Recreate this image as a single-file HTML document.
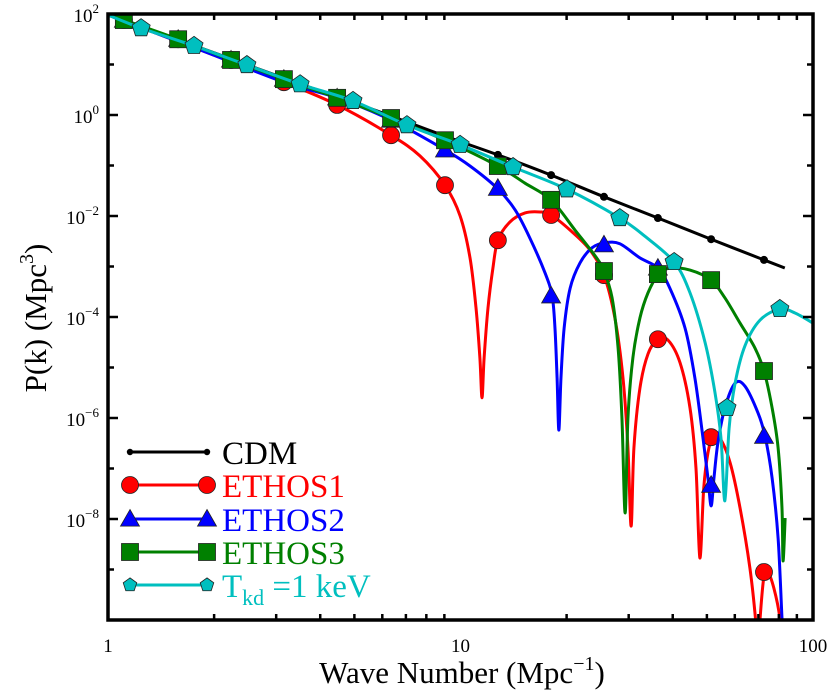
<!DOCTYPE html>
<html><head><meta charset="utf-8"><style>
html,body{margin:0;padding:0;background:#fff;}
svg{display:block;font-family:"Liberation Serif",serif;}
</style></head><body>
<svg id="chart" width="831" height="695" viewBox="0 0 831 695" xmlns="http://www.w3.org/2000/svg">
<defs><clipPath id="plotclip"><rect x="108" y="14" width="705" height="606"/></clipPath></defs>
<g id="curves" clip-path="url(#plotclip)"></g>
<g id="axes"></g>
<g id="legend"></g>
<text x="462" y="683" font-size="31" text-anchor="middle">Wave Number (Mpc<tspan font-size="20" dy="-13">−1</tspan><tspan dy="13">)</tspan></text>
<text transform="translate(46,318) rotate(-90)" font-size="31" text-anchor="middle">P(k) (Mpc<tspan font-size="20" dy="-13">3</tspan><tspan dy="13">)</tspan></text>
</svg>
<script>
// ---- data (log10 k in Mpc^-1, log10 P in Mpc^3) ----
const gridLogK = [0.045,0.199,0.349,0.499,0.650,0.803,0.956,1.106,1.257,1.407,1.560,1.711,1.861];
const halfLogK = [0.094,0.244,0.394,0.545,0.695,0.848,0.999,1.149,1.302,1.452,1.606,1.756,1.906];

const cdmLineK = [0.0,0.045,0.199,0.349,0.499,0.650,0.803,0.956,1.106,1.257,1.407,1.560,1.711,1.861,1.920];
const cdmLineP = [1.98,1.88,1.49,1.11,0.73,0.36,-0.02,-0.42,-0.79,-1.19,-1.62,-2.04,-2.46,-2.87,-3.03];
const cdmMarkP = [1.88,1.49,1.11,0.73,0.36,-0.02,-0.42,-0.79,-1.19,-1.62,-2.04,-2.46,-2.87];

const e1LineK = [0,0.261,0.499,0.650,0.803,0.885,0.956,0.999,1.027,1.044,1.055,1.061,1.067,1.078,1.092,1.106,1.140,1.183,1.226,1.257,1.311,1.367,1.407,1.438,1.461,1.475,1.484,1.492,1.509,1.532,1.560,1.589,1.623,1.651,1.668,1.679,1.690,1.702,1.716,1.736,1.765,1.793,1.821,1.838,1.844,1.850,1.861,1.872,1.889,1.906,1.915];
const e1LineP = [1.98,1.29,0.65,0.20,-0.40,-0.81,-1.39,-2.00,-2.83,-3.82,-4.81,-5.60,-4.81,-3.82,-3.03,-2.48,-2.12,-1.94,-1.92,-1.98,-2.28,-2.67,-3.17,-4.02,-5.21,-6.59,-8.14,-6.59,-5.41,-4.73,-4.44,-4.46,-4.91,-5.80,-6.99,-8.77,-7.39,-6.69,-6.38,-6.40,-6.89,-7.78,-8.97,-10.06,-10.75,-9.96,-9.13,-9.05,-9.37,-9.96,-10.75];
const e1MarkP = [1.88,1.50,1.09,0.65,0.20,-0.40,-1.39,-2.48,-1.98,-3.17,-4.44,-6.38,-9.05];

const e2LineK = [0,0.261,0.499,0.650,0.803,0.956,1.027,1.104,1.155,1.197,1.240,1.260,1.268,1.274,1.279,1.285,1.294,1.311,1.339,1.373,1.410,1.452,1.509,1.560,1.594,1.637,1.665,1.688,1.702,1.711,1.719,1.730,1.750,1.779,1.807,1.844,1.864,1.884,1.901,1.912,1.918];
const e2LineP = [1.98,1.29,0.65,0.34,-0.10,-0.69,-1.01,-1.45,-1.88,-2.44,-3.13,-3.58,-4.22,-5.21,-6.24,-5.21,-4.22,-3.43,-2.93,-2.63,-2.53,-2.55,-2.83,-3.03,-3.43,-4.22,-5.21,-6.40,-7.19,-7.74,-7.19,-6.50,-5.80,-5.31,-5.37,-5.90,-6.36,-7.19,-8.38,-9.96,-10.75];
const e2MarkP = [1.88,1.50,1.09,0.71,0.34,-0.10,-0.69,-1.45,-3.58,-2.57,-3.03,-7.33,-6.36];

const e3LineK = [0,0.045,0.199,0.349,0.499,0.650,0.803,0.956,1.106,1.183,1.257,1.325,1.382,1.407,1.430,1.447,1.458,1.467,1.475,1.489,1.509,1.532,1.560,1.594,1.651,1.711,1.750,1.793,1.835,1.861,1.884,1.901,1.912,1.915,1.921];
const e3LineP = [1.98,1.88,1.50,1.09,0.71,0.34,-0.06,-0.50,-1.01,-1.35,-1.68,-2.28,-2.79,-3.09,-3.62,-4.61,-6.00,-7.88,-6.00,-4.81,-4.02,-3.52,-3.17,-3.03,-3.07,-3.27,-3.62,-4.12,-4.61,-5.07,-5.80,-6.59,-7.78,-8.83,-7.98];
const e3MarkP = [1.88,1.50,1.09,0.71,0.34,-0.06,-0.50,-1.01,-1.68,-3.09,-3.15,-3.27,-5.07];

const tkLineK = [0,0.094,0.244,0.394,0.545,0.695,0.848,0.999,1.149,1.302,1.452,1.523,1.606,1.651,1.694,1.722,1.739,1.750,1.762,1.779,1.807,1.850,1.906,1.949,2.0];
const tkLineP = [1.98,1.72,1.37,0.99,0.61,0.28,-0.20,-0.59,-1.03,-1.47,-2.04,-2.40,-2.91,-3.52,-4.51,-5.50,-6.40,-7.64,-6.20,-5.31,-4.57,-4.06,-3.84,-3.92,-4.12];
const tkMarkP = [1.72,1.37,0.99,0.61,0.28,-0.20,-0.59,-1.03,-1.47,-2.04,-2.91,-5.80,-3.84];

const xTickLabels = ["1","10","100"];
const yTickExps = ["2","0","−2","−4","−6","−8"];
const yTickVals = [2,0,-2,-4,-6,-8];
const legendLabels = ["CDM","ETHOS1","ETHOS2","ETHOS3","T"];

// ---- axes ----
const X0=108,X1=813,Y0=14,Y1=620, LKMIN=0, LKMAX=2, LPMIN=-10, LPMAX=2;
const sx = lk => X0 + (lk-LKMIN)/(LKMAX-LKMIN)*(X1-X0);
const sy = lp => Y1 - (lp-LPMIN)/(LPMAX-LPMIN)*(Y1-Y0);
const NS="http://www.w3.org/2000/svg";
function mk(tag, attrs, parent){const e=document.createElementNS(NS,tag);for(const k in attrs)e.setAttribute(k,attrs[k]);parent.appendChild(e);return e;}

function smoothPath(K,P){
  const pts=K.map((k,i)=>[sx(k),sy(P[i])]);
  let d="M"+pts[0][0].toFixed(2)+","+pts[0][1].toFixed(2);
  for(let i=0;i<pts.length-1;i++){
    const p0=pts[Math.max(0,i-1)],p1=pts[i],p2=pts[i+1],p3=pts[Math.min(pts.length-1,i+2)];
    const t=0.16;
    const c1=[p1[0]+(p2[0]-p0[0])*t,p1[1]+(p2[1]-p0[1])*t];
    const c2=[p2[0]-(p3[0]-p1[0])*t,p2[1]-(p3[1]-p1[1])*t];
    d+=" C"+c1.map(v=>v.toFixed(2)).join(",")+" "+c2.map(v=>v.toFixed(2)).join(",")+" "+p2[0].toFixed(2)+","+p2[1].toFixed(2);
  }
  return d;
}
function marker(shape,cx,cy,color,parent,size){
  const s=size||1; let e;
  if(shape==="dot"){e=mk("circle",{cx:cx,cy:cy,r:4*s,fill:"#000"},parent);}
  else if(shape==="circle"){e=mk("circle",{cx:cx,cy:cy,r:8.5*s,fill:color,stroke:"#222","stroke-width":0.8},parent);}
  else if(shape==="square"){const h=8.5*s;e=mk("rect",{x:cx-h,y:cy-h,width:2*h,height:2*h,fill:color,stroke:"#222","stroke-width":0.8},parent);}
  else if(shape==="triangle"){const h=9.5*s;e=mk("polygon",{points:`${cx},${cy-h} ${cx+h},${cy+h*0.75} ${cx-h},${cy+h*0.75}`,fill:color,stroke:"#222","stroke-width":0.8},parent);}
  else {const r=9.5*s;let p=[];for(let i=0;i<5;i++){const a=-Math.PI/2+i*2*Math.PI/5;p.push((cx+r*Math.cos(a)).toFixed(2)+","+(cy+r*Math.sin(a)).toFixed(2));}
    e=mk("polygon",{points:p.join(" "),fill:color,stroke:"#222","stroke-width":0.8},parent);}
  return e;
}

const curves=document.getElementById("curves");
const series=[
 {name:"cdm",K:cdmLineK,P:cdmLineP,MK:gridLogK,MP:cdmMarkP,color:"#000",shape:"dot"},
 {name:"ethos1",K:e1LineK,P:e1LineP,MK:gridLogK,MP:e1MarkP,color:"#ff0000",shape:"circle"},
 {name:"ethos2",K:e2LineK,P:e2LineP,MK:gridLogK,MP:e2MarkP,color:"#0000ff",shape:"triangle"},
 {name:"ethos3",K:e3LineK,P:e3LineP,MK:gridLogK,MP:e3MarkP,color:"#008000",shape:"square"},
 {name:"tkd-1kev",K:tkLineK,P:tkLineP,MK:halfLogK,MP:tkMarkP,color:"#00bfbf",shape:"pentagon"}
];
series.forEach(s=>{
  const g=mk("g",{},curves);
  
  
  const path=mk("path",{d:smoothPath(s.K,s.P),fill:"none",stroke:s.color,"stroke-width":3,"stroke-linejoin":"round"},g);
  
  
  s.MK.forEach((k,i)=>{
    const m=marker(s.shape,sx(k),sy(s.MP[i]),s.color,g);
    
    
  });
});

// axes frame and ticks
const axes=document.getElementById("axes");
const frame=mk("rect",{x:X0,y:Y0,width:X1-X0,height:Y1-Y0,fill:"none",stroke:"#000","stroke-width":3.5},axes);


for(let dec=0;dec<2;dec++){
  for(let m=1;m<=9;m++){
    const lk=dec+Math.log10(m); const x=sx(lk); const L=(m===1)?10:6;
    if(m!==1){
      mk("line",{x1:x,y1:Y1,x2:x,y2:Y1-L,stroke:"#000","stroke-width":2.5},axes);
      mk("line",{x1:x,y1:Y0,x2:x,y2:Y0+L,stroke:"#000","stroke-width":2.5},axes);
    }
  }
}
xTickLabels.forEach((t,i)=>{
  const tx=mk("text",{x:sx(i),y:652,"font-size":19,"text-anchor":"middle"},axes);
  tx.textContent=t;
  
  
});
for(let lp=-9;lp<=1;lp++){
  const y=sy(lp); const major=(lp%2===0); const L=major?10:6;
  mk("line",{x1:X0,y1:y,x2:X0+L,y2:y,stroke:"#000","stroke-width":2.5},axes);
  mk("line",{x1:X1,y1:y,x2:X1-L,y2:y,stroke:"#000","stroke-width":2.5},axes);
}
yTickVals.forEach((v,i)=>{
  const tx=mk("text",{x:99,y:sy(v)+8,"font-size":19,"text-anchor":"end"},axes);
  const b=document.createElementNS(NS,"tspan"); b.textContent="10"; tx.appendChild(b);
  const e=document.createElementNS(NS,"tspan"); e.setAttribute("font-size","13"); e.setAttribute("dy","-9"); e.textContent=yTickExps[i]; tx.appendChild(e);
  
  
});

// legend
const legend=document.getElementById("legend");
const rowsY=[452,485,519,552,585];
series.forEach((s,i)=>{
  const g=mk("g",{},legend);
  
  
  const y=rowsY[i];
  mk("line",{x1:130,y1:y,x2:207,y2:y,stroke:s.color,"stroke-width":3},g);
  const sz=s.shape==="pentagon"?0.75:(s.shape==="dot"?0.8:1);
  marker(s.shape,130,y,s.color,g,sz);
  marker(s.shape,207,y,s.color,g,sz);
  const t=mk("text",{x:222,y:y+12,"font-size":33,fill:s.color},g);
  if(s.name==="tkd-1kev"){
    t.appendChild(document.createTextNode("T"));
    const sub=document.createElementNS(NS,"tspan"); sub.setAttribute("font-size","22"); sub.setAttribute("dy","8"); sub.textContent="kd"; t.appendChild(sub);
    const r=document.createElementNS(NS,"tspan"); r.setAttribute("dy","-8"); r.textContent=" =1 keV"; t.appendChild(r);
  } else t.textContent=legendLabels[i];
});
</script>
</body></html>
